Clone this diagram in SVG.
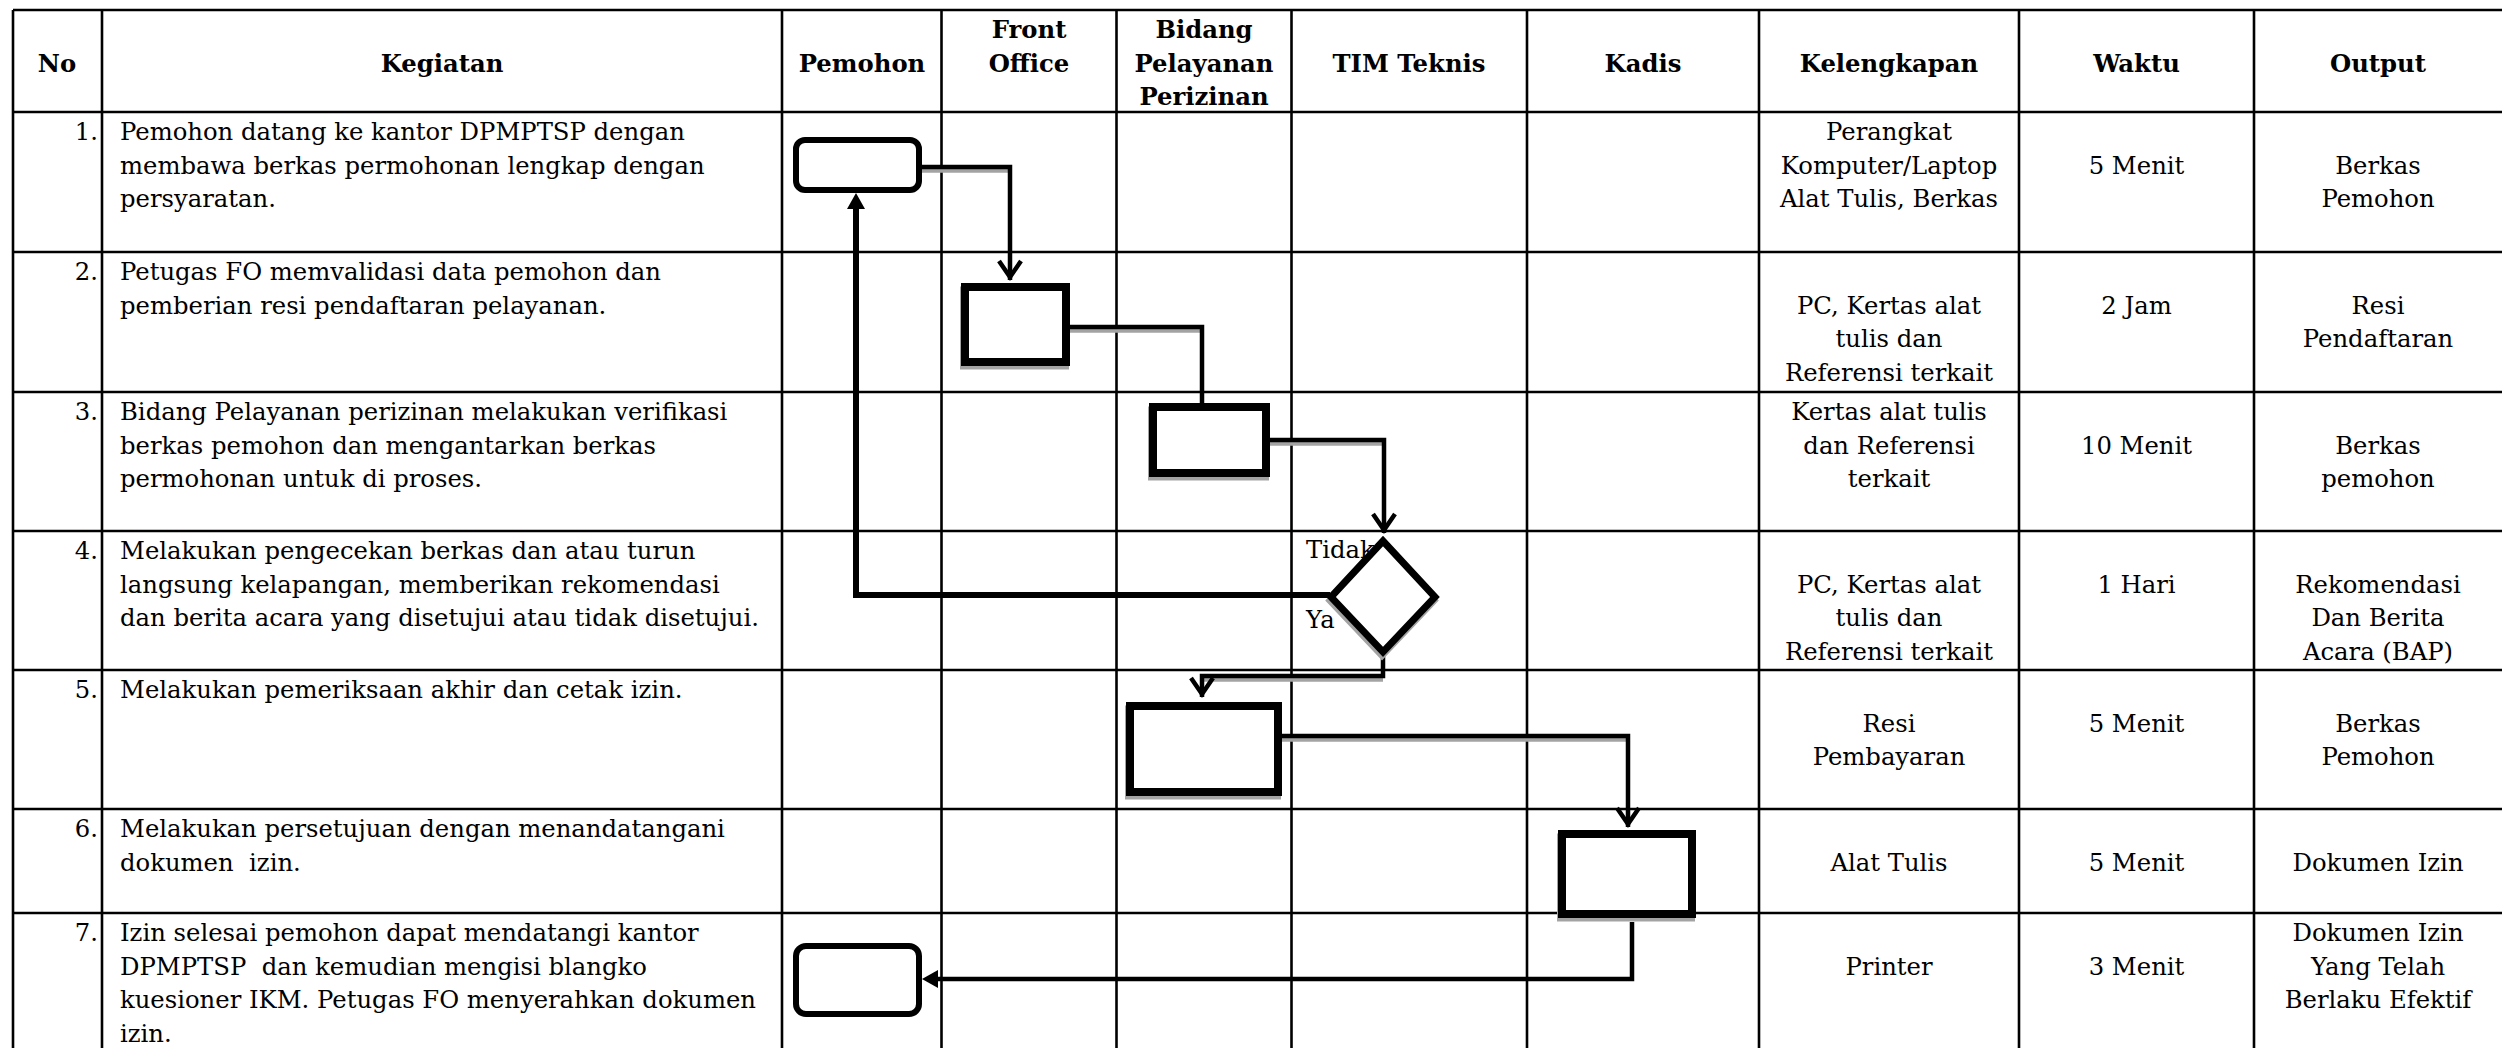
<svg xmlns="http://www.w3.org/2000/svg" width="2502" height="1048" viewBox="0 0 2502 1048">
<defs>
<style>
.grid line{stroke:#000;stroke-width:2.6}
text{font-family:"DejaVu Serif","Liberation Serif",serif;font-size:24.3px;fill:#000}
.h{font-weight:bold;text-anchor:middle}
.c{text-anchor:middle}
.n{text-anchor:end}
.pre{white-space:pre}
.box{fill:#fff;stroke:#000;stroke-width:8}
.term{fill:#fff;stroke:#000;stroke-width:6}
.shadow{fill:none;stroke:#a3a3a3;stroke-width:8}
.con{fill:none;stroke:#000;stroke-width:4.5}
.conshadow{fill:none;stroke:#a3a3a3;stroke-width:4.5}
</style>
<marker id="open" markerUnits="userSpaceOnUse" viewBox="-22 -14 28 28" refX="3" refY="0" markerWidth="28" markerHeight="28" orient="auto">
<path d="M-16,-11 L0,0 L-16,11" fill="none" stroke="#000" stroke-width="4.5"/>
</marker>
</defs>
<rect width="2502" height="1048" fill="#fff"/>

<g id="table" class="grid">
<line x1="13" y1="10" x2="2502" y2="10"/>
<line x1="13" y1="112" x2="2502" y2="112"/>
<line x1="13" y1="252" x2="2502" y2="252"/>
<line x1="13" y1="392" x2="2502" y2="392"/>
<line x1="13" y1="531" x2="2502" y2="531"/>
<line x1="13" y1="670" x2="2502" y2="670"/>
<line x1="13" y1="809" x2="2502" y2="809"/>
<line x1="13" y1="913" x2="2502" y2="913"/>
<line x1="13" y1="10" x2="13" y2="1048"/>
<line x1="102" y1="10" x2="102" y2="1048"/>
<line x1="782" y1="10" x2="782" y2="1048"/>
<line x1="941.5" y1="10" x2="941.5" y2="1048"/>
<line x1="1116.5" y1="10" x2="1116.5" y2="1048"/>
<line x1="1291.5" y1="10" x2="1291.5" y2="1048"/>
<line x1="1527" y1="10" x2="1527" y2="1048"/>
<line x1="1759" y1="10" x2="1759" y2="1048"/>
<line x1="2019" y1="10" x2="2019" y2="1048"/>
<line x1="2254" y1="10" x2="2254" y2="1048"/>
</g>

<g id="header">
<text class="h" x="57" y="71.5">No</text>
<text class="h" x="442" y="71.5">Kegiatan</text>
<text class="h" x="862" y="71.5">Pemohon</text>
<text class="h" x="1029" y="38">Front</text>
<text class="h" x="1029" y="71.5">Office</text>
<text class="h" x="1204" y="38">Bidang</text>
<text class="h" x="1204" y="71.5">Pelayanan</text>
<text class="h" x="1204" y="105">Perizinan</text>
<text class="h" x="1409" y="71.5">TIM Teknis</text>
<text class="h" x="1643" y="71.5">Kadis</text>
<text class="h" x="1889" y="71.5">Kelengkapan</text>
<text class="h" x="2136.5" y="71.5">Waktu</text>
<text class="h" x="2378" y="71.5">Output</text>
</g>

<g id="row1">
<text class="n" x="98" y="140">1.</text>
<text x="120" y="140">Pemohon datang ke kantor DPMPTSP dengan</text>
<text x="120" y="173.5">membawa berkas permohonan lengkap dengan</text>
<text x="120" y="207">persyaratan.</text>
<text class="c" x="1889" y="140">Perangkat</text>
<text class="c" x="1889" y="173.5">Komputer/Laptop</text>
<text class="c" x="1889" y="207">Alat Tulis, Berkas</text>
<text class="c" x="2136.5" y="173.5">5 Menit</text>
<text class="c" x="2378" y="173.5">Berkas</text>
<text class="c" x="2378" y="207">Pemohon</text>
</g>

<g id="row2">
<text class="n" x="98" y="280">2.</text>
<text x="120" y="280">Petugas FO memvalidasi data pemohon dan</text>
<text x="120" y="313.5">pemberian resi pendaftaran pelayanan.</text>
<text class="c" x="1889" y="313.5">PC, Kertas alat</text>
<text class="c" x="1889" y="347">tulis dan</text>
<text class="c" x="1889" y="380.5">Referensi terkait</text>
<text class="c" x="2136.5" y="313.5">2 Jam</text>
<text class="c" x="2378" y="313.5">Resi</text>
<text class="c" x="2378" y="347">Pendaftaran</text>
</g>

<g id="row3">
<text class="n" x="98" y="420">3.</text>
<text x="120" y="420">Bidang Pelayanan perizinan melakukan verifikasi</text>
<text x="120" y="453.5">berkas pemohon dan mengantarkan berkas</text>
<text x="120" y="487">permohonan untuk di proses.</text>
<text class="c" x="1889" y="420">Kertas alat tulis</text>
<text class="c" x="1889" y="453.5">dan Referensi</text>
<text class="c" x="1889" y="487">terkait</text>
<text class="c" x="2136.5" y="453.5">10 Menit</text>
<text class="c" x="2378" y="453.5">Berkas</text>
<text class="c" x="2378" y="487">pemohon</text>
</g>

<g id="row4">
<text class="n" x="98" y="559">4.</text>
<text x="120" y="559">Melakukan pengecekan berkas dan atau turun</text>
<text x="120" y="592.5">langsung kelapangan, memberikan rekomendasi</text>
<text x="120" y="626">dan berita acara yang disetujui atau tidak disetujui.</text>
<text class="c" x="1889" y="592.5">PC, Kertas alat</text>
<text class="c" x="1889" y="626">tulis dan</text>
<text class="c" x="1889" y="659.5">Referensi terkait</text>
<text class="c" x="2136.5" y="592.5">1 Hari</text>
<text class="c" x="2378" y="592.5">Rekomendasi</text>
<text class="c" x="2378" y="626">Dan Berita</text>
<text class="c" x="2378" y="659.5">Acara (BAP)</text>
</g>

<g id="row5">
<text class="n" x="98" y="698">5.</text>
<text x="120" y="698">Melakukan pemeriksaan akhir dan cetak izin.</text>
<text class="c" x="1889" y="731.5">Resi</text>
<text class="c" x="1889" y="765">Pembayaran</text>
<text class="c" x="2136.5" y="731.5">5 Menit</text>
<text class="c" x="2378" y="731.5">Berkas</text>
<text class="c" x="2378" y="765">Pemohon</text>
</g>

<g id="row6">
<text class="n" x="98" y="837">6.</text>
<text x="120" y="837">Melakukan persetujuan dengan menandatangani</text>
<text class="pre" x="120" y="870.5">dokumen  izin.</text>
<text class="c" x="1889" y="870.5">Alat Tulis</text>
<text class="c" x="2136.5" y="870.5">5 Menit</text>
<text class="c" x="2378" y="870.5">Dokumen Izin</text>
</g>

<g id="row7">
<text class="n" x="98" y="941">7.</text>
<text x="120" y="941">Izin selesai pemohon dapat mendatangi kantor</text>
<text class="pre" x="120" y="974.5">DPMPTSP  dan kemudian mengisi blangko</text>
<text x="120" y="1008">kuesioner IKM. Petugas FO menyerahkan dokumen</text>
<text x="120" y="1041.5">izin.</text>
<text class="c" x="1889" y="974.5">Printer</text>
<text class="c" x="2136.5" y="974.5">3 Menit</text>
<text class="c" x="2378" y="941">Dokumen Izin</text>
<text class="c" x="2378" y="974.5">Yang Telah</text>
<text class="c" x="2378" y="1008">Berlaku Efektif</text>
</g>

<g id="decision-labels">
<text x="1306" y="558">Tidak</text>
<text x="1306" y="628">Ya</text>
</g>

<g id="connectors">
<g transform="translate(0,3.5)">
<path class="conshadow" d="M922,167 H1010"/>
<path class="conshadow" d="M1069,327 H1202"/>
<path class="conshadow" d="M1269,440 H1384"/>
<path class="conshadow" d="M1383,676 H1202"/>
<path class="conshadow" d="M1281,736 H1628"/>
</g>
<path class="con" d="M922,167 H1010 V280" marker-end="url(#open)"/>
<path class="con" d="M1069,327 H1202 V403"/>
<path class="con" d="M1269,440 H1384 V533" marker-end="url(#open)"/>
<path class="con" style="stroke-width:6" d="M1330,595 H856 V208"/>
<path fill="#000" d="M856,193 L847,209 L865,209 Z"/>
<path class="con" d="M1383,650 V676 H1202 V697" marker-end="url(#open)"/>
<path class="con" d="M1281,736 H1628 V827" marker-end="url(#open)"/>
<path class="con" d="M1632,922 V979 H938"/>
<path fill="#000" d="M922,979 L938,970 L938,988 Z"/>
</g>

<g id="start-pemohon">
<rect class="term" x="796" y="140" width="123" height="50" rx="9"/>
</g>
<g id="fo-validasi">
<rect class="shadow" x="964" y="290.5" width="101" height="75"/>
<rect class="box" x="965" y="287" width="101" height="75"/>
</g>
<g id="bidang-verifikasi">
<rect class="shadow" x="1152" y="410.5" width="113" height="66"/>
<rect class="box" x="1153" y="407" width="113" height="66"/>
</g>
<g id="tim-keputusan">
<polygon class="shadow" style="stroke-width:7" points="1382,544.5 1434,600.5 1382,655.5 1330,600.5"/>
<polygon fill="#fff" stroke="#000" stroke-width="7" points="1383,541 1435,597 1383,652 1331,597"/>
</g>
<g id="bidang-cetak">
<rect class="shadow" x="1129" y="709.5" width="148" height="86"/>
<rect class="box" x="1130" y="706" width="148" height="86"/>
</g>
<g id="kadis-ttd">
<rect class="shadow" x="1561" y="837.5" width="130" height="80"/>
<rect class="box" x="1562" y="834" width="130" height="80"/>
</g>
<g id="end-pemohon">
<rect class="term" x="796" y="946" width="123" height="68" rx="10"/>
</g>
</svg>
